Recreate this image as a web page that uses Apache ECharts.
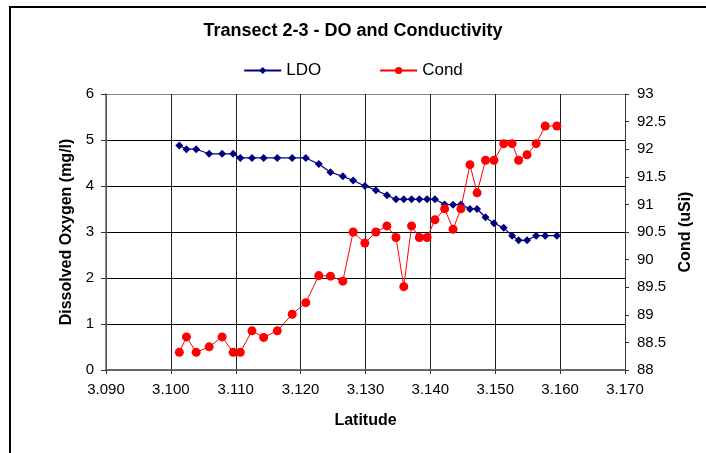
<!DOCTYPE html>
<html>
<head>
<meta charset="utf-8">
<script src="https://cdn.jsdelivr.net/npm/echarts@6/dist/echarts.min.js"></script>
<style>
html,body{margin:0;padding:0;background:#fff;}
#chart{width:706px;height:453px;}
</style>
</head>
<body>
<div id="chart"></div>
<script>
const latitude = [3.1013,3.1024,3.1039,3.1059,3.1079,3.1096,3.1107,3.1125,3.1143,3.1164,3.1187,3.1208,3.1228,3.1246,3.1265,3.1281,3.1299,3.1316,3.1333,3.1347,3.1359,3.1371,3.1383,3.1395,3.1407,3.1422,3.1435,3.1447,3.1461,3.1472,3.1485,3.1498,3.1513,3.1526,3.1536,3.1549,3.1563,3.1577,3.1595];
const ldo = [4.88,4.8,4.8,4.7,4.7,4.7,4.61,4.61,4.61,4.61,4.61,4.61,4.48,4.3,4.21,4.12,4.0,3.91,3.8,3.71,3.71,3.71,3.71,3.71,3.71,3.6,3.59,3.6,3.5,3.5,3.32,3.19,3.09,2.92,2.82,2.82,2.92,2.92,2.92];
const cond = [88.32,88.6,88.32,88.42,88.6,88.32,88.32,88.71,88.59,88.71,89.01,89.22,89.71,89.7,89.61,90.5,90.3,90.5,90.61,90.4,89.51,90.61,90.4,90.4,90.72,90.92,90.55,90.92,91.72,91.21,91.8,91.8,92.1,92.1,91.8,91.9,92.1,92.42,92.42];
const seriesNames = ['LDO','Cond'];
const chartTitle = 'Transect 2-3 - DO and Conductivity';
const xName = 'Latitude';
const yLeftName = 'Dissolved Oxygen (mg/l)';
const yRightName = 'Cond (uSi)';

const font = 'Liberation Sans, Arial, sans-serif';
const chart = echarts.init(document.getElementById('chart'), null, {renderer:'canvas'});
chart.setOption({
  backgroundColor:'#fff',
  animation:false,
  graphic:[{type:'rect', shape:{x:10,y:7,width:720,height:470}, style:{fill:'none',stroke:'#000',lineWidth:2}, silent:true}],
  title:{text:chartTitle, left:'center', top:17, textStyle:{fontFamily:font,fontSize:18,fontWeight:'bold',color:'#000'}},
  legend:{top:57, left:'center', itemWidth:37, itemHeight:9, itemGap:58,
    textStyle:{fontFamily:font,fontSize:17,color:'#000'},
    data:seriesNames},
  grid:{left:106, right:81, top:94, bottom:83},
  xAxis:{type:'value', min:3.09, max:3.17, interval:0.01,
    name:xName, nameLocation:'middle', nameGap:43,
    nameTextStyle:{fontFamily:font,fontSize:16,fontWeight:'bold',color:'#000'},
    axisLine:{onZero:false,lineStyle:{color:'#666',width:2}},
    axisTick:{show:true,length:4,lineStyle:{color:'#333'}},
    axisLabel:{fontFamily:font,fontSize:15,color:'#000',margin:12,formatter:v=>v.toFixed(3)},
    splitLine:{show:true,lineStyle:{color:'#222',width:1}}},
  yAxis:[
    {type:'value', min:0, max:6, interval:1, position:'left',
     name:yLeftName, nameLocation:'middle', nameGap:28,
     nameTextStyle:{fontFamily:font,fontSize:16,fontWeight:'bold',color:'#000'},
     axisLine:{show:true,lineStyle:{color:'#666',width:1.5}},
     axisTick:{show:true,length:5,lineStyle:{color:'#333'}},
     axisLabel:{fontFamily:font,fontSize:15,color:'#000',margin:12},
     splitLine:{show:true,lineStyle:{color:['#000','#000','#000','#000','#000','#000','#888'],width:1}}},
    {type:'value', min:88, max:93, interval:0.5, position:'right',
     name:yRightName, nameLocation:'middle', nameGap:53, nameRotate:90,
     nameTextStyle:{fontFamily:font,fontSize:16,fontWeight:'bold',color:'#000'},
     axisLine:{show:true,lineStyle:{color:'#333',width:1}},
     axisTick:{show:true,length:4,lineStyle:{color:'#333'}},
     axisLabel:{fontFamily:font,fontSize:15,color:'#000',margin:12},
     splitLine:{show:false}}
  ],
  series:[
    {name:seriesNames[0], type:'line', yAxisIndex:0,
     data:latitude.map((x,i)=>[x,ldo[i]]),
     symbol:'diamond', symbolSize:8, showAllSymbol:true,
     lineStyle:{color:'#000080',width:1.2},
     itemStyle:{color:'#000080'}},
    {name:seriesNames[1], type:'line', yAxisIndex:1,
     data:latitude.map((x,i)=>[x,cond[i]]),
     symbol:'circle', symbolSize:9, showAllSymbol:true,
     lineStyle:{color:'#ff0000',width:1},
     itemStyle:{color:'#ff0000'}}
  ]
});
</script>
</body>
</html>
